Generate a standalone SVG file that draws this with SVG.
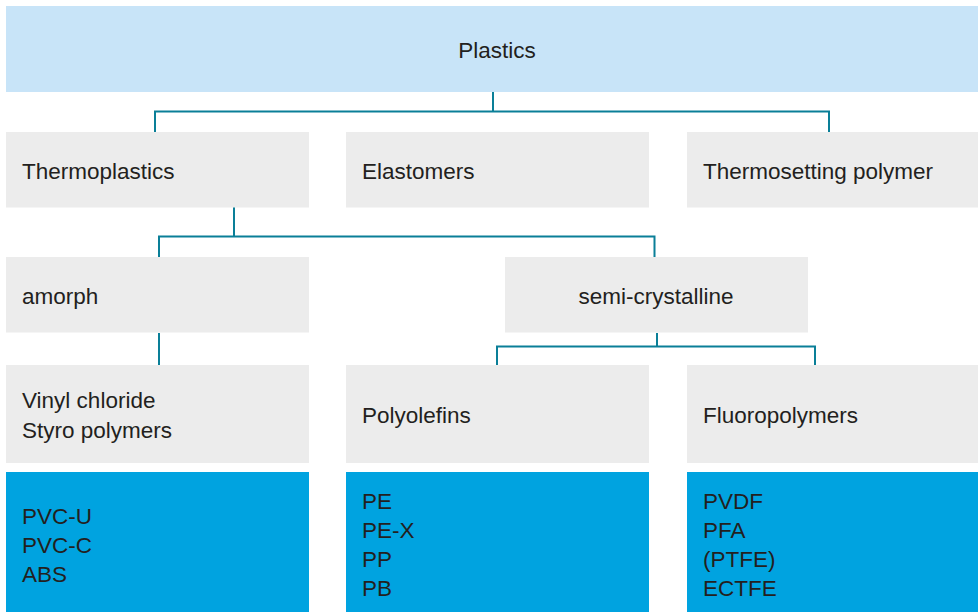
<svg xmlns="http://www.w3.org/2000/svg" width="978" height="612" viewBox="0 0 978 612">
<style>
.top{fill:#c8e4f8}
.grey{fill:#ececec}
.blue{fill:#00a3e0}
text{font-family:"Liberation Sans",Arial,sans-serif;font-size:22.5px;fill:#231f20}
.c{text-anchor:middle}
.conn{fill:none;stroke:#0a7f98;stroke-width:2}
</style>
<rect width="978" height="612" fill="#ffffff"/>
<g id="connectors">
<path class="conn" d="M493 92V111.5M155 132V111.5H829V132"/>
<path class="conn" d="M234 207V236.5M159 257V236.5H654.5V257"/>
<path class="conn" d="M159 333V365"/>
<path class="conn" d="M657 333V346.5M497 365V346.5H815V365"/>
</g>
<g id="plastics"><rect class="top" x="6" y="6" width="972" height="86"/><text class="c" x="497" y="58">Plastics</text></g>
<g id="thermoplastics"><rect class="grey" x="6" y="132" width="303" height="75.5"/><text x="22" y="179">Thermoplastics</text></g>
<g id="elastomers"><rect class="grey" x="346" y="132" width="303" height="75.5"/><text x="362" y="179">Elastomers</text></g>
<g id="thermosetting"><rect class="grey" x="687" y="132" width="291" height="75.5"/><text x="703" y="179">Thermosetting polymer</text></g>
<g id="amorph"><rect class="grey" x="6" y="257" width="303" height="75.5"/><text x="22" y="304">amorph</text></g>
<g id="semicrystalline"><rect class="grey" x="505" y="257" width="303" height="75.5"/><text class="c" x="656" y="304">semi-crystalline</text></g>
<g id="vinyl"><rect class="grey" x="6" y="365" width="303" height="98"/><text x="22" y="408">Vinyl chloride</text><text x="22" y="438">Styro polymers</text></g>
<g id="polyolefins"><rect class="grey" x="346" y="365" width="303" height="98"/><text x="362" y="423">Polyolefins</text></g>
<g id="fluoropolymers"><rect class="grey" x="687" y="365" width="291" height="98"/><text x="703" y="423">Fluoropolymers</text></g>
<g id="pvc"><rect class="blue" x="6" y="472" width="303" height="140"/><text x="22" y="524">PVC-U</text><text x="22" y="553">PVC-C</text><text x="22" y="582">ABS</text></g>
<g id="pe"><rect class="blue" x="346" y="472" width="303" height="140"/><text x="362" y="509">PE</text><text x="362" y="538">PE-X</text><text x="362" y="567">PP</text><text x="362" y="596">PB</text></g>
<g id="pvdf"><rect class="blue" x="687" y="472" width="291" height="140"/><text x="703" y="509">PVDF</text><text x="703" y="538">PFA</text><text x="703" y="567">(PTFE)</text><text x="703" y="596">ECTFE</text></g>
</svg>
